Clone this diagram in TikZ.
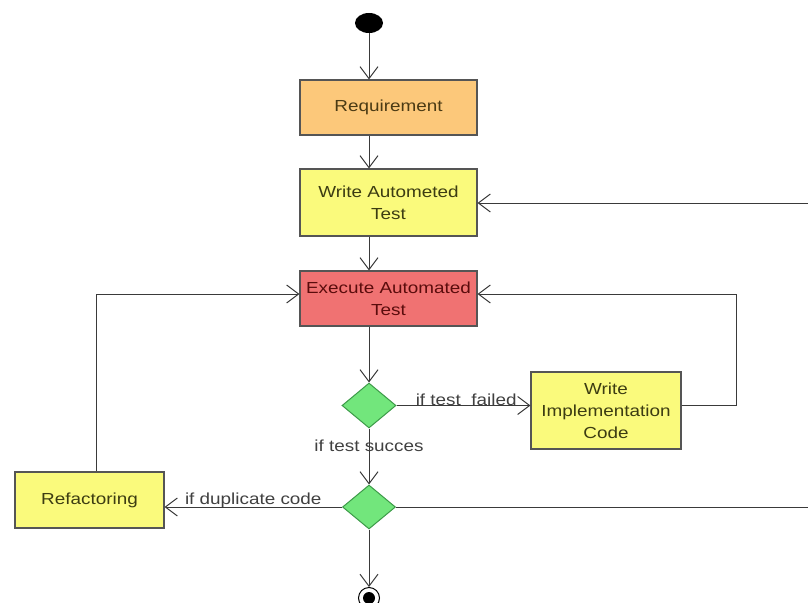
\documentclass[tikz,border=0pt]{standalone}
\usepackage{fontspec}
\setmainfont{Liberation Sans}[FakeStretch=1.18]
\usetikzlibrary{shapes.geometric,arrows.meta}
\definecolor{lineclr}{HTML}{3A3A3A}
\definecolor{boxedge}{HTML}{555555}
\definecolor{reqfill}{HTML}{FCC87A}
\definecolor{yelfill}{HTML}{FAFA7C}
\definecolor{redfill}{HTML}{F07272}
\definecolor{grnfill}{HTML}{72E67C}
\definecolor{grnedge}{HTML}{3C9A48}
\definecolor{reqtext}{HTML}{4A3A14}
\definecolor{yeltext}{HTML}{3C3C12}
\definecolor{redtext}{HTML}{5A0C0C}
\begin{document}
\begin{tikzpicture}[x=1pt,y=-1pt,
  font=\fontsize{16}{22}\selectfont,
  flow/.style={draw=lineclr,line width=1pt,-{Straight Barb[length=12pt,width=18pt,line width=1pt]}},
  plain/.style={draw=lineclr,line width=1pt},
  act/.style={draw=boxedge,line width=1.1pt,rectangle,align=center,inner sep=2pt},
  dec/.style={draw=grnedge,fill=grnfill,line width=1pt,diamond,inner sep=0pt,minimum width=54pt,minimum height=45pt},
  lbl/.style={text=black!75,inner sep=1pt}
]
\useasboundingbox (0,0) rectangle (808,602);
% start
\node[ellipse,fill=black,minimum width=28pt,minimum height=20pt,inner sep=0pt] (start) at (369,23) {};
% activities
\node[act,fill=reqfill,text=reqtext,minimum width=177pt,minimum height=55pt] (req) at (388.5,107.5) {Requirement};
\node[act,fill=yelfill,text=yeltext,minimum width=177pt,minimum height=67pt] (wat) at (388.5,202.5) {Write Autometed\\Test};
\node[act,fill=redfill,text=redtext,minimum width=177pt,minimum height=55pt] (exe) at (388.5,298.5) {Execute Automated\\Test};
\node[act,fill=yelfill,text=yeltext,minimum width=150pt,minimum height=77pt] (wic) at (606,410.5) {Write\\Implementation\\Code};
\node[act,fill=yelfill,text=yeltext,minimum width=149pt,minimum height=56pt] (ref) at (89.5,500) {Refactoring};
% decisions
\node[dec] (d1) at (369,405.5) {};
\node[dec,minimum width=53pt,minimum height=44pt] (d2) at (369,507) {};
% end
\node[circle,draw=black,line width=1pt,fill=white,minimum size=21pt,inner sep=0pt] (fin) at (369,598) {};
\node[circle,fill=black,minimum size=12pt,inner sep=0pt] (finin) at (fin.center) {};
% free ends
\coordinate (inR) at (808,203);
\coordinate (outR) at (808,507);
\coordinate (loopR) at (736,294);
\coordinate (loopL) at (96,294);
% flows
\draw[flow] (start.south) -- (req.north -| start.south);
\draw[flow] (req.south -| start.south) -- (wat.north -| start.south);
\draw[flow] (wat.south -| start.south) -- (exe.north -| start.south);
\draw[flow] (exe.south -| start.south) -- (d1.north);
\draw[flow] (inR) -- (wat.east |- inR);
\draw[flow] (d1.east) -- node[lbl,above,pos=0.52,yshift=-2pt]{if test\ \ failed} (wic.west |- d1.east);
\draw[flow] (wic.east |- d1.east) -- (d1.east -| loopR) -- (loopR) -- (exe.east |- loopR);
\draw[flow] (d1.south) -- node[lbl,pos=0.3]{if test succes} (d2.north);
\draw[flow] (d2.west) -- node[lbl,above,pos=0.5,yshift=-2pt]{if duplicate code} (ref.east |- d2.west);
\draw[plain] (d2.east) -- (outR);
\draw[flow] (ref.north -| loopL) -- (loopL) -- (exe.west |- loopL);
\draw[flow] (d2.south) -- (fin.north);
\end{tikzpicture}
\end{document}
